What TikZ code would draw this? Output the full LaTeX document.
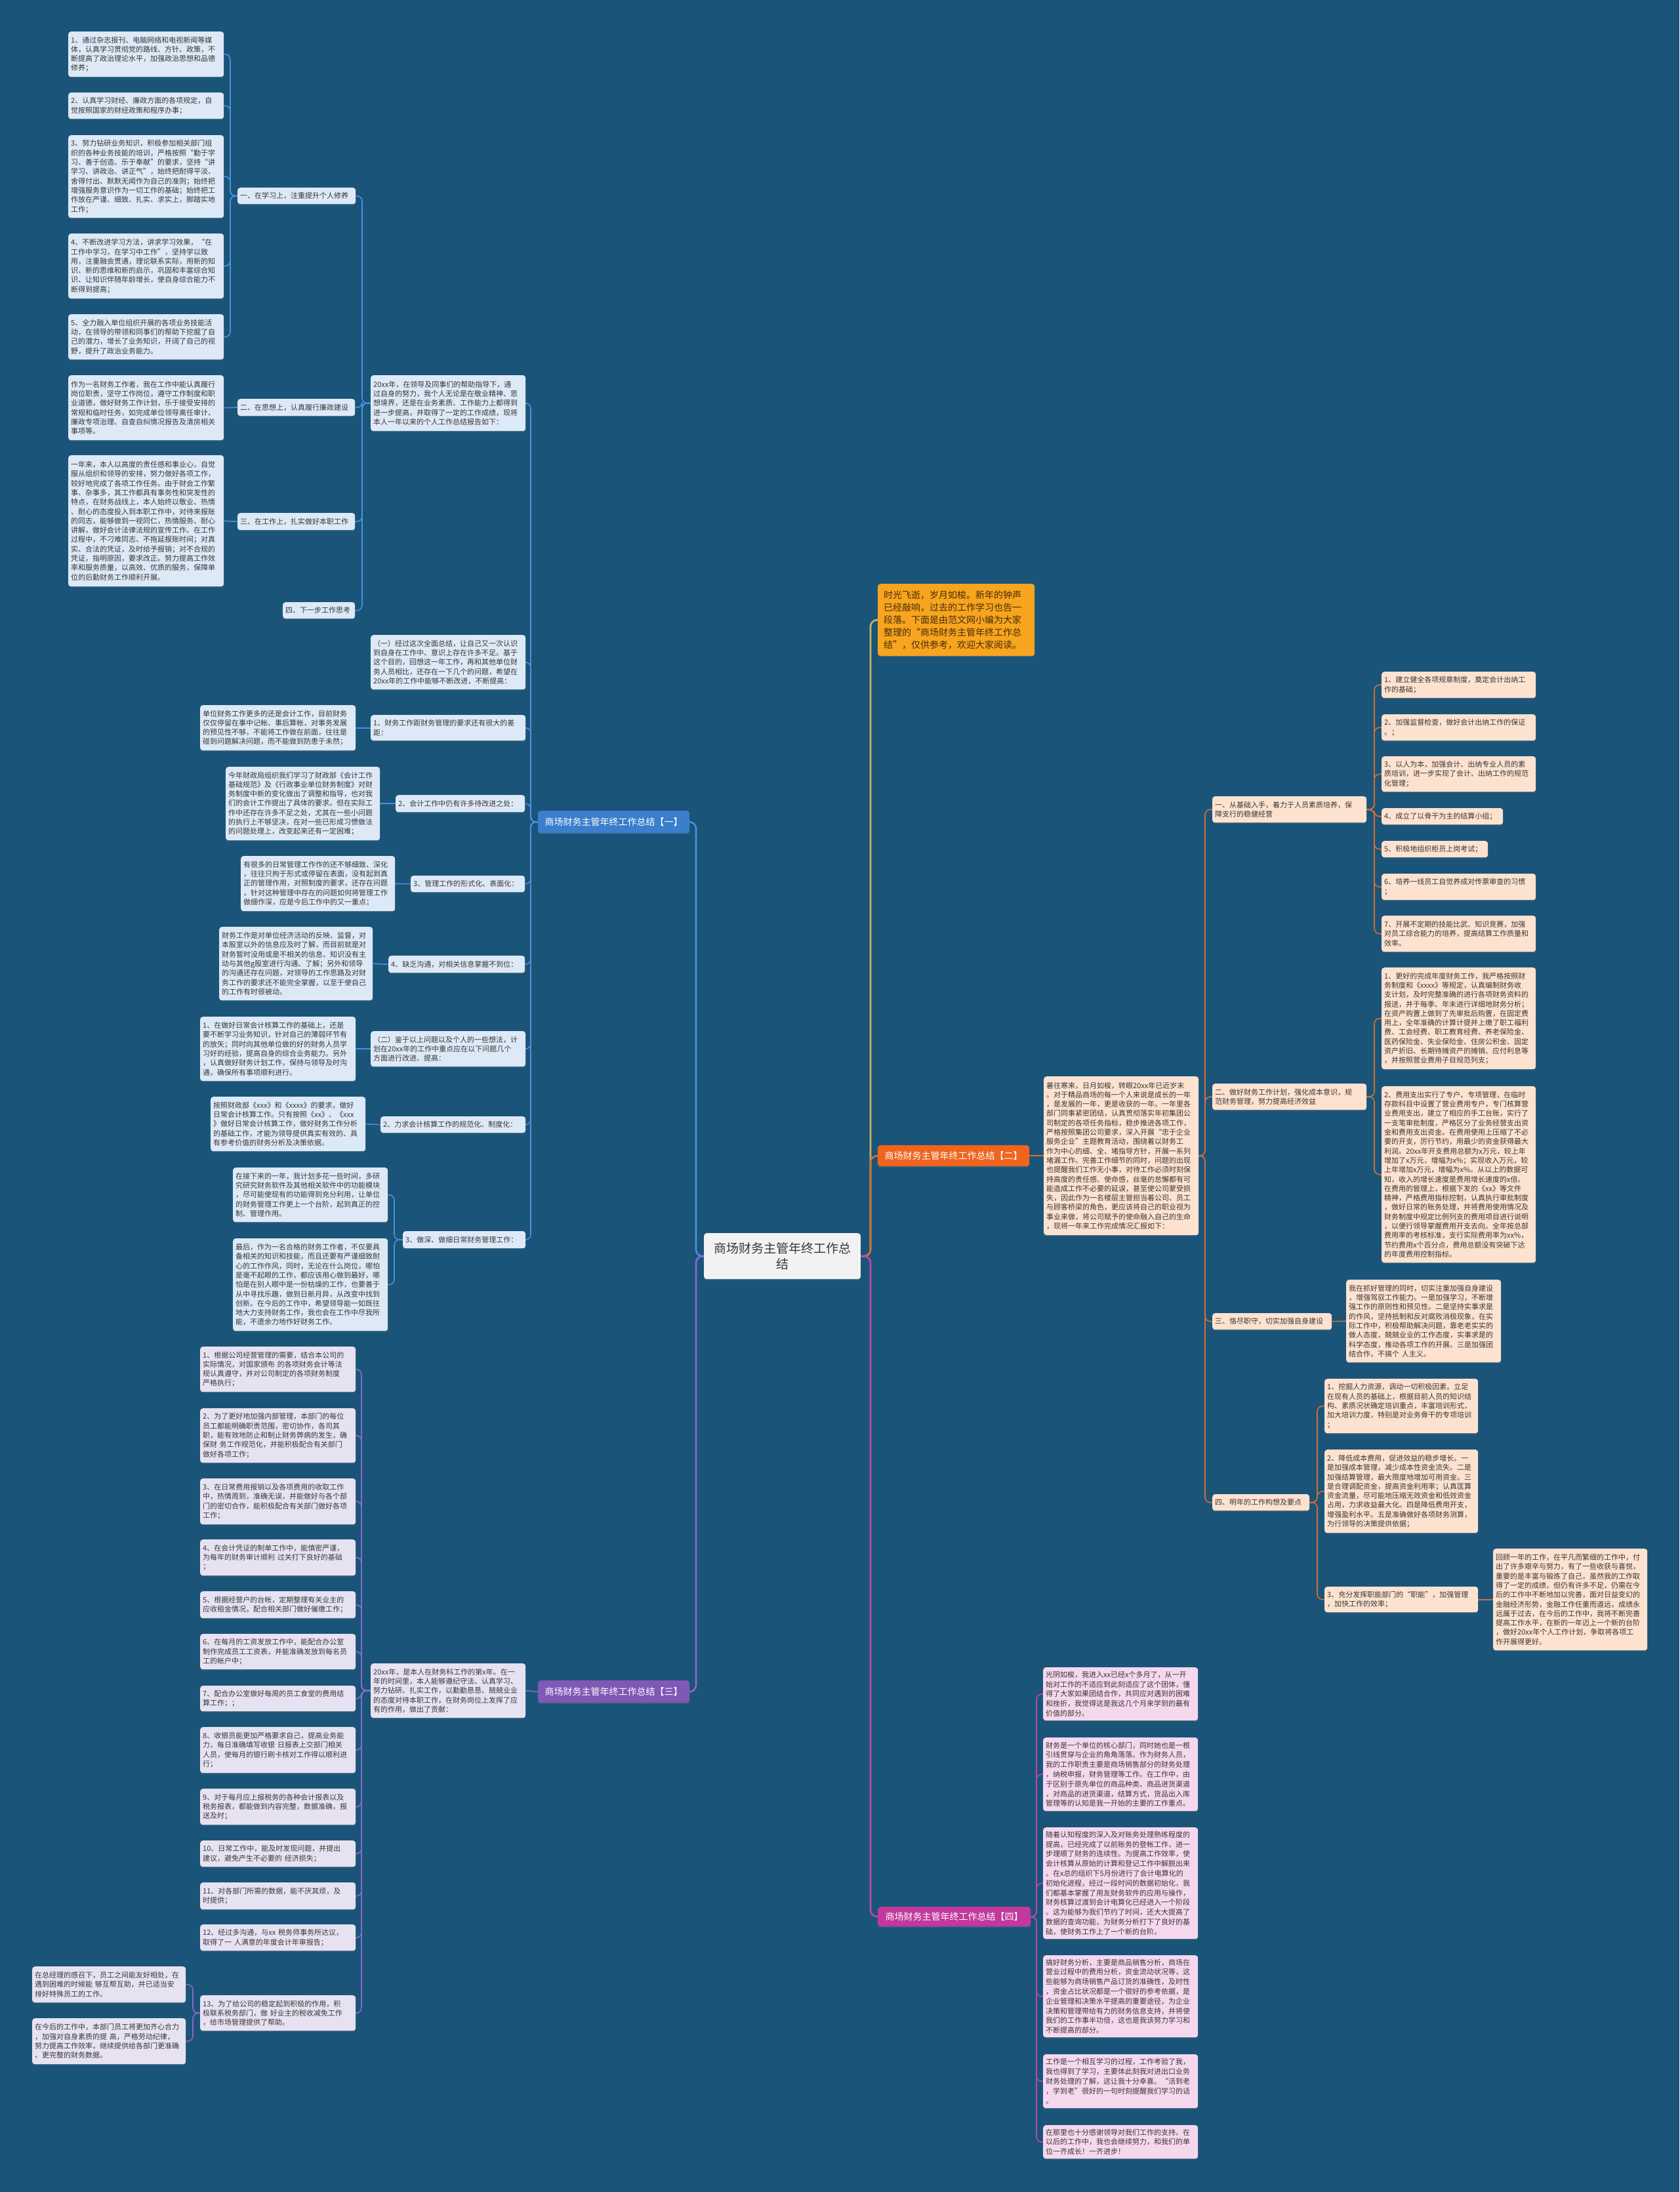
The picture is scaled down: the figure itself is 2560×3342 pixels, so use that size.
\documentclass[tikz,border=0pt]{standalone}
\usepackage{fontspec}
\setmainfont{Noto Sans CJK SC}
\usetikzlibrary{shadows}
\definecolor{bg}{RGB}{27,84,121}
\definecolor{txtc}{RGB}{55,55,55}
\definecolor{blueln}{RGB}{74,144,226}
\definecolor{bluelab}{RGB}{58,126,204}
\definecolor{bluefill}{RGB}{221,233,246}
\definecolor{orgln}{RGB}{212,110,52}
\definecolor{orglab}{RGB}{240,100,30}
\definecolor{orgfill}{RGB}{253,226,208}
\definecolor{purln}{RGB}{138,104,204}
\definecolor{purlab}{RGB}{128,88,182}
\definecolor{purfill}{RGB}{231,226,242}
\definecolor{pinkln}{RGB}{186,72,172}
\definecolor{pinklab}{RGB}{194,56,156}
\definecolor{pinkfill}{RGB}{246,216,238}
\definecolor{introfill}{RGB}{247,164,30}
\definecolor{introtxt}{RGB}{70,45,10}
\definecolor{introln}{RGB}{200,182,98}
\definecolor{ctrfill}{RGB}{242,242,242}
\newcommand{\fs}{\fontsize{11}{14.3}\selectfont}
\newcommand{\fsp}{\fontsize{11}{14.8}\selectfont}
\newcommand{\fsb}{\fontsize{14}{17}\selectfont}
\newcommand{\fsi}{\fontsize{14}{19}\selectfont}
\newcommand{\fsc}{\fontsize{19}{24}\selectfont}
\pgfdeclarelayer{back}
\pgfdeclarelayer{edges}
\pgfsetlayers{back,edges,main}
\begin{document}
\begin{tikzpicture}[x=1pt,y=-1pt,
 bx/.style={rectangle, rounded corners=4pt, inner xsep=4pt, inner ysep=2pt, align=left, anchor=north west, font=\fs, text=txtc, drop shadow={shadow xshift=0pt,shadow yshift=-1.5pt,opacity=0.3}},
 bb/.style={bx, fill=bluefill},
 ob/.style={bx, fill=orgfill},
 pb/.style={bx, fill=purfill},
 kb/.style={bx, fill=pinkfill, font=\fsp},
 lab/.style={rectangle, rounded corners=4pt, anchor=north west, font=\fsb, text=white, inner xsep=6pt, drop shadow={shadow xshift=0pt,shadow yshift=-1.5pt,opacity=0.3}},
 conn/.style={line width=1.6pt, rounded corners=8pt},
 mainc/.style={line width=2.6pt, rounded corners=10pt}]
\useasboundingbox (0,0) rectangle (2560,3342);
\begin{pgfonlayer}{back}
\fill[bg] (0,0) rectangle (2560,3342);
\end{pgfonlayer}

% bus coordinates
\coordinate (bL) at (1061,0);
\coordinate (bR) at (1327,0);
\coordinate (bB1) at (809,0);
\coordinate (bA) at (552,0);
\coordinate (bA1) at (351,0);
\coordinate (bC8) at (601,0);
\coordinate (bD) at (551,0);
\coordinate (bD13) at (294,0);
\coordinate (bE) at (1837,0);
\coordinate (bE1) at (2095,0);
\coordinate (bE4) at (2008,0);
\coordinate (bF) at (1580,0);

% ---------- center ----------
\node[rectangle, rounded corners=4pt, anchor=north west, fill=ctrfill, text=txtc, font=\fsc, align=center, text width=232pt, minimum height=70pt, drop shadow={shadow xshift=0pt,shadow yshift=-1.5pt,opacity=0.3}] (C) at (1073,1880) {商场财务主管年终工作总\\结};

% ---------- branch 1 ----------
\node[lab, fill=bluelab, minimum width=231pt, minimum height=34pt] (B1) at (820,1236) {商场财务主管年终工作总结【一】};

\node[bb, text width=228pt, minimum height=85pt] (A0) at (565,572) {20xx年，在领导及同事们的帮助指导下，通\\过自身的努力，我个人无论是在敬业精神、思\\想境界，还是在业务素质、工作能力上都得到\\进一步提高，并取得了一定的工作成绩，现将\\本人一年以来的个人工作总结报告如下：};

\node[bb, text width=172pt, minimum height=25pt] (A1l) at (362,286) {一、在学习上，注重提升个人修养};
\node[bb, text width=171pt, minimum height=26pt] (A2l) at (362,608) {二、在思想上，认真履行廉政建设};
\node[bb, text width=171pt, minimum height=26pt] (A3l) at (362,782) {三、在工作上，扎实做好本职工作};
\node[bb, text width=102pt, minimum height=25pt] (A4l) at (431,918) {四、下一步工作思考};

\node[bb, text width=229pt, minimum height=69pt] (L1) at (104,48) {1、通过杂志报刊、电脑网络和电视新闻等媒\\体，认真学习贯彻党的路线、方针、政策，不\\断提高了政治理论水平，加强政治思想和品德\\修养；};
\node[bb, text width=229pt, minimum height=40pt] (L2) at (104,141) {2、认真学习财经、廉政方面的各项规定，自\\觉按照国家的财经政策和程序办事；};
\node[bb, text width=229pt, minimum height=126pt] (L3) at (104,206) {3、努力钻研业务知识，积极参加相关部门组\\织的各种业务技能的培训，严格按照“勤于学\\习、善于创造、乐于奉献”的要求，坚持“讲\\学习、讲政治、讲正气”，始终把耐得平淡、\\舍得付出、默默无闻作为自己的准则；始终把\\增强服务意识作为一切工作的基础；始终把工\\作放在严谨、细致、扎实、求实上，脚踏实地\\工作；};
\node[bb, text width=229pt, minimum height=99pt] (L4) at (104,356) {4、不断改进学习方法，讲求学习效果，“在\\工作中学习，在学习中工作”，坚持学以致\\用，注重融会贯通，理论联系实际，用新的知\\识、新的思维和新的启示，巩固和丰富综合知\\识、让知识伴随年龄增长，使自身综合能力不\\断得到提高；};
\node[bb, text width=229pt, minimum height=69pt] (L5) at (104,479) {5、全力融入单位组织开展的各项业务技能活\\动，在领导的带领和同事们的帮助下挖掘了自\\己的潜力，增长了业务知识，开阔了自己的视\\野，提升了政治业务能力。};

\node[bb, text width=229pt, minimum height=99pt] (A2) at (104,572) {作为一名财务工作者，我在工作中能认真履行\\岗位职责，坚守工作岗位，遵守工作制度和职\\业道德，做好财务工作计划，乐于接受安排的\\常规和临时任务，如完成单位领导离任审计、\\廉政专项治理、自查自纠情况报告及清房相关\\事项等。};
\node[bb, text width=229pt, minimum height=200pt] (A3) at (104,694) {一年来，本人以高度的责任感和事业心，自觉\\服从组织和领导的安排，努力做好各项工作，\\较好地完成了各项工作任务。由于财会工作繁\\事、杂事多，其工作都具有事务性和突发性的\\特点，在财务战线上，本人始终以敬业、热情\\、耐心的态度投入到本职工作中，对待来报账\\的同志，能够做到一视同仁，热情服务、耐心\\讲解，做好会计法律法规的宣传工作。在工作\\过程中，不刁难同志、不拖延报账时间；对真\\实、合法的凭证，及时给予报销；对不合规的\\凭证，指明原因，要求改正。努力提高工作效\\率和服务质量，以高效、优质的服务，保障单\\位的后勤财务工作顺利开展。};

\node[bb, text width=228pt, minimum height=83pt] (C1) at (565,968) {（一）经过这次全面总结，让自己又一次认识\\到自身在工作中、意识上存在许多不足。基于\\这个目的，回想这一年工作，再和其他单位财\\务人员相比，还存在一下几个的问题，希望在\\20xx年的工作中能够不断改进，不断提高：};
\node[bb, text width=228pt, minimum height=39pt] (C2l) at (565,1090) {1、财务工作距财务管理的要求还有很大的差\\距：};
\node[bb, text width=229pt, minimum height=69pt] (C2) at (305,1075) {单位财务工作更多的还是会计工作，目前财务\\仅仅停留在事中记帐、事后算帐，对事务发展\\的预见性不够，不能将工作做在前面，往往是\\碰到问题解决问题，而不能做到防患于未然；};
\node[bb, text width=189pt, minimum height=26pt] (C3l) at (603,1212) {2、会计工作中仍有许多待改进之处：};
\node[bb, text width=227pt, minimum height=112pt] (C3) at (344,1169) {今年财政局组织我们学习了财政部《会计工作\\基础规范》及《行政事业单位财务制度》对财\\务制度中新的变化做出了调整和指导，也对我\\们的会计工作提出了具体的要求。但在实际工\\作中还存在许多不足之处，尤其在一些小问题\\的执行上不够坚决，在对一些已形成习惯做法\\的问题处理上，改变起来还有一定困难；};
\node[bb, text width=166pt, minimum height=25pt] (C4l) at (626,1335) {3、管理工作的形式化、表面化：};
\node[bb, text width=227pt, minimum height=84pt] (C4) at (367,1305) {有很多的日常管理工作作的还不够细致、深化\\，往往只拘于形式或停留在表面，没有起到真\\正的管理作用，对照制度的要求，还存在问题\\，针对这种管理中存在的问题如何将管理工作\\做细作深，应是今后工作中的又一重点；};
\node[bb, text width=200pt, minimum height=26pt] (C5l) at (592,1457) {4、缺乏沟通，对相关信息掌握不到位：};
\node[bb, text width=226pt, minimum height=112pt] (C5) at (334,1413) {财务工作是对单位经济活动的反映、监督，对\\本股室以外的信息应及时了解，而目前就是对\\财务暂时没用或是不相关的信息、知识没有主\\动与其他g股室进行沟通、了解；另外和领导\\的沟通还存在问题，对领导的工作思路及对财\\务工作的要求还不能完全掌握，以至于使自己\\的工作有时很被动。};
\node[bb, text width=228pt, minimum height=54pt] (C6) at (565,1572) {（二）鉴于以上问题以及个人的一些想法，计\\划在20xx年的工作中重点应在以下问题几个\\方面进行改进、提高：};
\node[bb, text width=229pt, minimum height=98pt] (C6a) at (305,1550) {1、在做好日常会计核算工作的基础上，还是\\要不断学习业务知识，针对自己的薄弱环节有\\的放矢；同时向其他单位做的好的财务人员学\\习好的经验，提高自身的综合业务能力。另外\\，认真做好财务计划工作，保持与领导及时沟\\通，确保所有事项顺利进行。};
\node[bb, text width=213pt, minimum height=25pt] (C7l) at (580,1702) {2、力求会计核算工作的规范化、制度化：};
\node[bb, text width=228pt, minimum height=83pt] (C7) at (321,1672) {按照财政部《xxx》和《xxxx》的要求，做好\\日常会计核算工作。只有按照《xx》、《xxx\\》做好日常会计核算工作，做好财务工作分析\\的基础工作，才能为领导提供真实有效的、具\\有参考价值的财务分析及决策依据。};
\node[bb, text width=179pt, minimum height=26pt] (C8l) at (614,1877) {3、做深、做细日常财务管理工作：};
\node[bb, text width=228pt, minimum height=83pt] (C8a) at (355,1780) {在接下来的一年，我计划多花一些时间，多研\\究研究财务软件及其他相关软件中的功能模块\\，尽可能使现有的功能得到充分利用，让单位\\的财务管理工作更上一个台阶，起到真正的控\\制、管理作用。};
\node[bb, text width=228pt, minimum height=141pt] (C8b) at (355,1888) {最后，作为一名合格的财务工作者，不仅要具\\备相关的知识和技能，而且还要有严谨细致耐\\心的工作作风，同时，无论在什么岗位，哪怕\\是毫不起眼的工作，都应该用心做到最好，哪\\怕是在别人眼中是一份枯燥的工作，也要善于\\从中寻找乐趣，做到日新月异，从改变中找到\\创新。在今后的工作中，希望领导能一如既往\\地大力支持财务工作，我也会在工作中尽我所\\能，不遗余力地作好财务工作。};

% ---------- branch 3 ----------
\node[lab, fill=purlab, minimum width=231pt, minimum height=34pt] (B3) at (820,2562) {商场财务主管年终工作总结【三】};
\node[pb, text width=228pt, minimum height=83pt] (D0) at (565,2536) {20xx年，是本人在财务科工作的第x年。在一\\年的时间里，本人能够遵纪守法、认真学习、\\努力钻研、扎实工作，以勤勤恳恳、兢兢业业\\的态度对待本职工作，在财务岗位上发挥了应\\有的作用，做出了贡献：};
\node[pb, text width=229pt, minimum height=69pt] (D1) at (305,2053) {1、根据公司经营管理的需要，结合本公司的\\实际情况，对国家颁布 的各项财务会计等法\\规认真遵守，并对公司制定的各项财务制度\\严格执行；};
\node[pb, text width=229pt, minimum height=83pt] (D2) at (305,2147) {2、为了更好地加强内部管理，本部门的每位\\员工都能明确职责范围，密切协作，各司其\\职，能有效地防止和制止财务弊病的发生，确\\保财 务工作规范化，并能积极配合有关部门\\做好各项工作；};
\node[pb, text width=229pt, minimum height=70pt] (D3) at (305,2254) {3、在日常费用报销以及各项费用的收取工作\\中，热情周到，准确无误，并能做好与各个部\\门的密切合作，能积极配合有关部门做好各项\\工作；};
\node[pb, text width=229pt, minimum height=55pt] (D4) at (305,2347) {4、在会计凭证的制单工作中，能慎密严谨，\\为每年的财务审计顺利 过关打下良好的基础\\；};
\node[pb, text width=229pt, minimum height=41pt] (D5) at (305,2426) {5、根据经营户的台帐，定期整理有关业主的\\应收租金情况，配合相关部门做好催缴工作；};
\node[pb, text width=229pt, minimum height=54pt] (D6) at (305,2491) {6、在每月的工资发放工作中，能配合办公室\\制作完成员工工资表，并能准确发放到每名员\\工的帐户中；};
\node[pb, text width=229pt, minimum height=39pt] (D7) at (305,2570) {7、配合办公室做好每周的员工食堂的费用结\\算工作；；};
\node[pb, text width=229pt, minimum height=70pt] (D8) at (305,2633) {8、收银员能更加严格要求自己，提高业务能\\力，每日准确填写收银 日报表上交部门相关\\人员，使每月的银行刷卡核对工作得以顺利进\\行；};
\node[pb, text width=229pt, minimum height=55pt] (D9) at (305,2727) {9、对于每月应上报税务的各种会计报表以及\\税务报表，都能做到内容完整，数据准确，报\\送及时；};
\node[pb, text width=229pt, minimum height=40pt] (D10) at (305,2806) {10、日常工作中，能及时发现问题，并提出\\建议，避免产生不必要的 经济损失；};
\node[pb, text width=229pt, minimum height=41pt] (D11) at (305,2870) {11、对各部门所需的数据，能不厌其烦，及\\时提供；};
\node[pb, text width=229pt, minimum height=40pt] (D12) at (305,2934) {12、经过多沟通，与xx 税务师事务所达议，\\取得了一 人满意的年度会计年审报告；};
\node[pb, text width=229pt, minimum height=54pt] (D13) at (305,3042) {13、为了给公司的稳定起到积极的作用，积\\极联系税务部门，做 好业主的税收减免工作\\，给市场管理提供了帮助。};
\node[pb, text width=226pt, minimum height=55pt] (D13a) at (49,2998) {在总经理的感召下，员工之间能友好相处，在\\遇到困难的时候能 够互帮互助，并已适当安\\排好特殊员工的工作。};
\node[pb, text width=226pt, minimum height=70pt] (D13b) at (49,3077) {在今后的工作中，本部门员工将更加齐心合力\\，加强对自身素质的提 高，严格劳动纪律，\\努力提高工作效率，继续提供给各部门更准确\\、更完整的财务数据。};

% ---------- intro ----------
\node[rectangle, rounded corners=4pt, anchor=north west, fill=introfill, text=introtxt, font=\fsi, align=left, inner xsep=9pt, inner ysep=3pt, text width=221pt, minimum height=110pt, drop shadow={shadow xshift=0pt,shadow yshift=-1.5pt,opacity=0.3}] (I0) at (1338,890) {时光飞逝，岁月如梭。新年的钟声\\已经敲响，过去的工作学习也告一\\段落。下面是由范文网小编为大家\\整理的“商场财务主管年终工作总\\结”，仅供参考，欢迎大家阅读。};

% ---------- branch 2 ----------
\node[lab, fill=orglab, minimum width=231pt, minimum height=32pt] (B2) at (1338,1746) {商场财务主管年终工作总结【二】};
\node[ob, text width=228pt, minimum height=242pt] (E0) at (1591,1641) {暑往寒来，日月如梭，转眼20xx年已近岁末\\。对于精品商场的每一个人来说是成长的一年\\，是发展的一年，更是收获的一年。一年里各\\部门同事紧密团结，认真贯彻落实年初集团公\\司制定的各项任务指标，稳步推进各项工作，\\严格按照集团公司要求，深入开展“忠于企业\\服务企业”主题教育活动，围绕着以财务工\\作为中心的细、全、堵指导方针，开展一系列\\堵漏工作。完善工作细节的同时，问题的出现\\也提醒我们工作无小事，对待工作必须时刻保\\持高度的责任感、使命感，丝毫的怠懈都有可\\能造成工作不必要的延误，甚至使公司蒙受损\\失，因此作为一名楼层主管担当着公司、员工\\与顾客桥梁的角色，更应该将自己的职业视为\\事业来做，将公司赋予的使命融入自己的生命\\，现将一年来工作完成情况汇报如下：};
\node[ob, text width=227pt, minimum height=40pt] (E1) at (1848,1214) {一、从基础入手，着力于人员素质培养，保\\障支行的稳健经营};
\node[ob, text width=227pt, minimum height=40pt] (E1a) at (2106,1024) {1、建立健全各项规章制度，奠定会计出纳工\\作的基础；};
\node[ob, text width=227pt, minimum height=40pt] (E1b) at (2106,1089) {2、加强监督检查，做好会计出纳工作的保证\\。；};
\node[ob, text width=227pt, minimum height=54pt] (E1c) at (2106,1153) {3、以人为本，加强会计、出纳专业人员的素\\质培训，进一步实现了会计、出纳工作的规范\\化管理；};
\node[ob, text width=177pt, minimum height=25pt] (E1d) at (2106,1232) {4、成立了以骨干为主的结算小组；};
\node[ob, text width=154pt, minimum height=25pt] (E1e) at (2106,1282) {5、积极地组织柜员上岗考试；};
\node[ob, text width=227pt, minimum height=40pt] (E1f) at (2106,1332) {6、培养一线员工自觉养成对传票审查的习惯\\；};
\node[ob, text width=227pt, minimum height=55pt] (E1g) at (2106,1396) {7、开展不定期的技能比武、知识竞赛，加强\\对员工综合能力的培养，提高结算工作质量和\\效率。};
\node[ob, text width=227pt, minimum height=40pt] (E2) at (1848,1652) {二、做好财务工作计划，强化成本意识，规\\范财务管理，努力提高经济效益};
\node[ob, text width=227pt, minimum height=155pt] (E2a) at (2106,1475) {1、更好的完成年度财务工作，我严格按照财\\务制度和《xxxx》等规定，认真编制财务收\\支计划，及时完整准确的进行各项财务资料的\\报送，并于每季、年末进行详细地财务分析；\\在资产购置上做到了先审批后购置，在固定费\\用上，全年准确的计算计提并上缴了职工福利\\费、工会经费、职工教育经费、养老保险金、\\医药保险金、失业保险金、住房公积金、固定\\资产折旧、长期待摊资产的摊销、应付利息等\\，并按照营业费用子目规范列支；};
\node[ob, text width=227pt, minimum height=269pt] (E2b) at (2106,1656) {2、费用支出实行了专户、专项管理，在临时\\存款科目中设置了营业费用专户，专门核算营\\业费用支出，建立了相应的手工台账，实行了\\一支笔审批制度，严格区分了业务经营支出资\\金和费用支出资金。在费用使用上压缩了不必\\要的开支，厉行节约，用最少的资金获得最大\\利润。20xx年开支费用总额为x万元，较上年\\增加了x万元，增幅为x\%；实现收入万元，较\\上年增加x万元，增幅为x\%。从以上的数据可\\知，收入的增长速度是费用增长速度的x倍。\\在费用的管理上，根据下发的《xx》等文件\\精神，严格费用指标控制，认真执行审批制度\\，做好日常的账务处理，并将费用使用情况及\\财务制度中规定比例列支的费用项目进行说明\\，以便行领导掌握费用开支去向。全年按总部\\费用率的考核标准，支行实际费用率为xx\%，\\节约费用x个百分点，费用总额没有突破下达\\的年度费用控制指标。};
\node[ob, text width=174pt, minimum height=25pt] (E3) at (1848,2002) {三、恪尽职守，切实加强自身建设};
\node[ob, text width=228pt, minimum height=126pt] (E3a) at (2052,1951) {我在抓好管理的同时，切实注重加强自身建设\\，增强驾驭工作能力。一是加强学习，不断增\\强工作的原则性和预见性。二是坚持实事求是\\的作风，坚持抵制和反对腐败消极现象，在实\\际工作中，积极帮助解决问题，靠老老实实的\\做人态度，兢兢业业的工作态度，实事求是的\\科学态度，推动各项工作的开展。三是加强团\\结合作，不搞个 人主义。};
\node[ob, text width=140pt, minimum height=25pt] (E4) at (1848,2278) {四、明年的工作构想及要点};
\node[ob, text width=226pt, minimum height=83pt] (E4a) at (2019,2102) {1、挖掘人力资源，调动一切积极因素。立足\\在现有人员的基础上，根据目前人员的知识结\\构、素质况状确定培训重点，丰富培训形式，\\加大培训力度，特别是对业务骨干的专项培训\\；};
\node[ob, text width=226pt, minimum height=127pt] (E4b) at (2019,2210) {2、降低成本费用，促进效益的稳步增长。一\\是加强成本管理，减少成本性资金流失。二是\\加强结算管理，最大限度地增加可用资金。三\\是合理调配资金，提高资金利用率；认真匡算\\资金流量，尽可能地压缩无效资金和低效资金\\占用，力求收益最大化。四是降低费用开支，\\增强盈利水平。五是准确做好各项财务测算，\\为行领导的决策提供依据；};
\node[ob, text width=226pt, minimum height=39pt] (E4c) at (2019,2419) {3、充分发挥职能部门的“职能”，加强管理\\，加快工作的效率；};
\node[ob, text width=227pt, minimum height=155pt] (E4d) at (2276,2361) {回顾一年的工作，在平凡而繁细的工作中，付\\出了许多艰辛与努力，有了一些收获与喜悦，\\重要的是丰富与锻炼了自己，虽然我的工作取\\得了一定的成绩，但仍有许多不足，仍需在今\\后的工作中不断地加以完善，面对日益变幻的\\金融经济形势，金融工作任重而道远，成绩永\\远属于过去，在今后的工作中，我将不断完善\\提高工作水平，在新的一年迈上一个新的台阶\\，做好20xx年个人工作计划，争取将各项工\\作开展得更好。};

% ---------- branch 4 ----------
\node[lab, fill=pinklab, minimum width=233pt, minimum height=30pt] (B4) at (1338,2907) {商场财务主管年终工作总结【四】};
\node[kb, text width=228pt, minimum height=81pt] (F1) at (1590,2542) {光阴如梭，我进入xx已经x个多月了，从一开\\始对工作的不适应到此刻适应了这个团体，懂\\得了大家如果团结合作，共同应对遇到的困难\\和挫折，我觉得这是我这几个月来学到的最有\\价值的部分。};
\node[kb, text width=228pt, minimum height=112pt] (F2) at (1590,2649) {财务是一个单位的核心部门，同时她也是一根\\引线贯穿与企业的角角落落。作为财务人员，\\我的工作职责主要是商场销售部分的财务处理\\，纳税申报，财务管理等工作。在工作中，由\\于区别于原先单位的商品种类、商品进货渠道\\，对商品的进货渠道，结算方式，货品出入库\\管理等的认知是我一开始的主要的工作重点。};
\node[kb, text width=228pt, minimum height=170pt] (F3) at (1590,2786) {随着认知程度的深入及对账务处理熟练程度的\\提高，已经完成了以前账务的登帐工作，进一\\步理顺了财务的连续性。为提高工作效率，使\\会计核算从原始的计算和登记工作中解脱出来\\。在x总的组织下5月份进行了会计电算化的\\初始化进程，经过一段时间的数据初始化，我\\们都基本掌握了用友财务软件的应用与操作，\\财务核算过渡到会计电算化已经进入一个阶段\\。这为能够为我们节约了时间，还大大提高了\\数据的查询功能，为财务分析打下了良好的基\\础，使财务工作上了一个新的台阶。};
\node[kb, text width=228pt, minimum height=125pt] (F4) at (1590,2981) {搞好财务分析，主要是商品销售分析，商场在\\营业过程中的费用分析，资金流动状况等，这\\些能够为商场销售产品订货的准确性，及时性\\，资金占比状况都是一个很好的参考依据，是\\企业管理和决策水平提高的重要途径，为企业\\决策和管理带给有力的财务信息支持，并将使\\我们的工作事半功倍，这也是我该努力学习和\\不断提高的部分。};
\node[kb, text width=228pt, minimum height=82pt] (F5) at (1590,3132) {工作是一个相互学习的过程，工作考验了我，\\我也得到了学习，主要体此刻我对进出口业务\\财务处理的了解，这让我十分幸喜。“活到老\\，学到老”很好的一句时刻提醒我们学习的话\\。};
\node[kb, text width=228pt, minimum height=51pt] (F6) at (1590,3240) {在那里也十分感谢领导对我们工作的支持。在\\以后的工作中，我也会继续努力，和我们的单\\位一齐成长！一齐进步！};

% ---------- connectors ----------
\begin{pgfonlayer}{edges}
% center
\draw[mainc, blueln] (C.west) -- (C.west -| bL) |- (B1.east);
\draw[mainc, purln] (C.west) -- (C.west -| bL) |- (B3.east);
\draw[mainc, introln] (C.east) -- (C.east -| bR) |- (I0.west);
\draw[mainc, orgln] (C.east) -- (C.east -| bR) |- (B2.west);
\draw[mainc, pinkln] (C.east) -- (C.east -| bR) |- (B4.west);
% branch 1
\foreach \c in {A0,C1,C2l,C3l,C4l,C5l,C6,C7l,C8l}
  \draw[conn, blueln] (B1.west) -- (B1.west -| bB1) |- (\c.east);
\foreach \c in {A1l,A2l,A3l,A4l}
  \draw[conn, blueln] (A0.west) -- (A0.west -| bA) |- (\c.east);
\foreach \c in {L1,L2,L3,L4,L5}
  \draw[conn, blueln] (A1l.west) -- (A1l.west -| bA1) |- (\c.east);
\foreach \c in {C8a,C8b}
  \draw[conn, blueln] (C8l.west) -- (C8l.west -| bC8) |- (\c.east);
\draw[conn, blueln] (A2l.west) -- (A2.east);
\draw[conn, blueln] (A3l.west) -- (A3.east);
\draw[conn, blueln] (C2l.west) -- (C2.east);
\draw[conn, blueln] (C3l.west) -- (C3.east);
\draw[conn, blueln] (C4l.west) -- (C4.east);
\draw[conn, blueln] (C5l.west) -- (C5.east);
\draw[conn, blueln] (C6.west) -- (C6a.east);
\draw[conn, blueln] (C7l.west) -- (C7.east);
% branch 3
\draw[conn, purln] (B3.west) -- (D0.east);
\foreach \c in {D1,D2,D3,D4,D5,D6,D7,D8,D9,D10,D11,D12,D13}
  \draw[conn, purln] (D0.west) -- (D0.west -| bD) |- (\c.east);
\foreach \c in {D13a,D13b}
  \draw[conn, purln] (D13.west) -- (D13.west -| bD13) |- (\c.east);
% branch 2
\draw[conn, orgln] (B2.east) -- (E0.west);
\foreach \c in {E1,E2,E3,E4}
  \draw[conn, orgln] (E0.east) -- (E0.east -| bE) |- (\c.west);
\foreach \c in {E1a,E1b,E1c,E1d,E1e,E1f,E1g}
  \draw[conn, orgln] (E1.east) -- (E1.east -| bE1) |- (\c.west);
\foreach \c in {E2a,E2b}
  \draw[conn, orgln] (E2.east) -- (E2.east -| bE1) |- (\c.west);
\draw[conn, orgln] (E3.east) -- (E3a.west);
\foreach \c in {E4a,E4b,E4c}
  \draw[conn, orgln] (E4.east) -- (E4.east -| bE4) |- (\c.west);
\draw[conn, orgln] (E4c.east) -- (E4d.west);
% branch 4
\foreach \c in {F1,F2,F3,F4,F5,F6}
  \draw[conn, pinkln] (B4.east) -- (B4.east -| bF) |- (\c.west);
\end{pgfonlayer}
\end{tikzpicture}
\end{document}
